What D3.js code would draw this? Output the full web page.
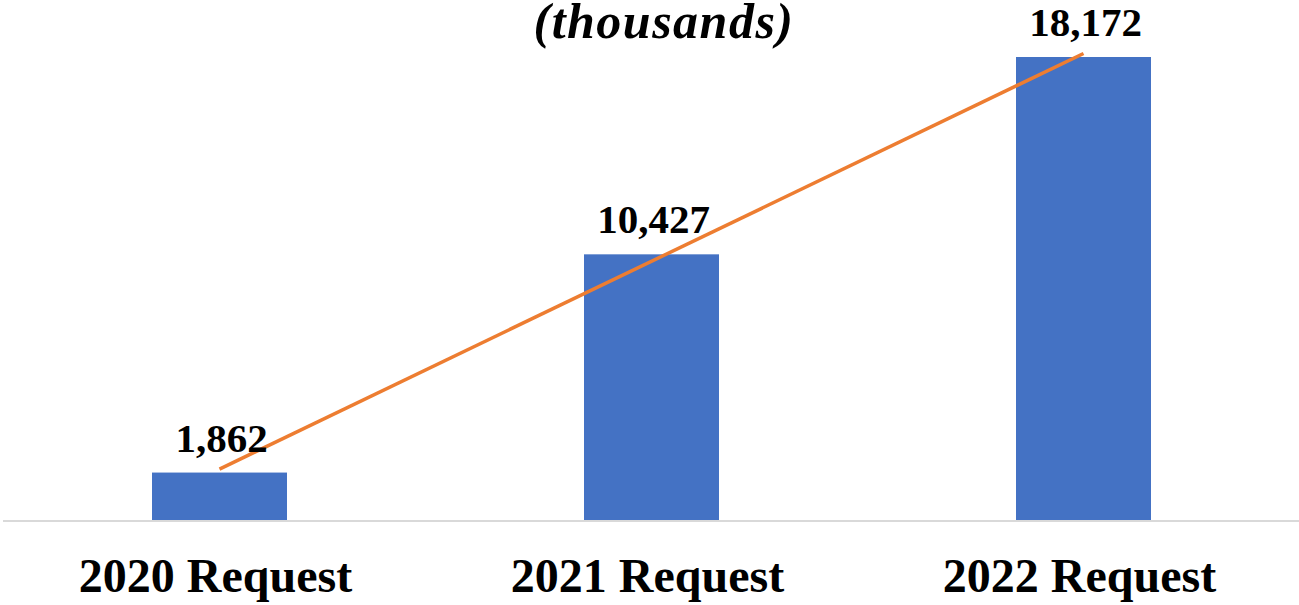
<!DOCTYPE html>
<html><head><meta charset="utf-8">
<script src="https://cdn.jsdelivr.net/npm/d3@7"></script>
<style>html,body{margin:0;padding:0;background:#fff;}</style>
</head><body>
<svg id="c" width="1299" height="605"></svg>
<script>
const categories = ["2020 Request", "2021 Request", "2022 Request"];
const values = [1862, 10427, 18172];
const valueLabels = ["1,862", "10,427", "18,172"];
const titleText = "(thousands)";

const svg = d3.select("#c");
const baseY = 520, topY = 57;

const x = d3.scaleBand().domain(categories).range([3.5, 1299.5]).paddingInner(0.6875).paddingOuter(0.34375);
const y = d3.scaleLinear().domain([0, 18172]).range([baseY, topY]);
const cx = c => x(c) + x.bandwidth()/2;

// bars
svg.selectAll("rect.bar").data(values).join("rect")
  .attr("class","bar")
  .attr("x",(d,i)=>x(categories[i]))
  .attr("width",x.bandwidth())
  .attr("y",d=>y(d))
  .attr("height",d=>baseY-y(d))
  .attr("fill","#4472C4");

// axis line
svg.append("line").attr("x1",3).attr("x2",1299).attr("y1",baseY+1).attr("y2",baseY+1)
  .attr("stroke","#d9d9d9").attr("stroke-width",2);

// linear trendline (least squares)
const xs = values.map((d,i)=>i+1);
const mx = d3.mean(xs), my = d3.mean(values);
const slope = d3.sum(xs.map((xi,i)=>(xi-mx)*(values[i]-my))) / d3.sum(xs.map(xi=>(xi-mx)*(xi-mx)));
const icpt = my - slope*mx;
svg.append("line")
  .attr("x1",cx(categories[0])).attr("y1",y(icpt+slope*1))
  .attr("x2",cx(categories[2])).attr("y2",y(icpt+slope*3))
  .attr("stroke","#ED7D31").attr("stroke-width",3.5);

// value labels
svg.selectAll("text.val").data(values).join("text")
  .attr("class","val")
  .attr("x",(d,i)=>cx(categories[i]) + 2)
  .attr("y",d=>y(d)-21)
  .attr("text-anchor","middle")
  .attr("font-family","'Liberation Serif','Times New Roman',serif")
  .attr("font-weight","bold").attr("font-size",41)
  .attr("fill","#000")
  .text((d,i)=>valueLabels[i]);

// category labels
svg.selectAll("text.cat").data(categories).join("text")
  .attr("class","cat")
  .attr("x",d=>cx(d) - 4)
  .attr("y",592)
  .attr("text-anchor","middle")
  .attr("font-family","'Liberation Serif','Times New Roman',serif")
  .attr("font-weight","bold").attr("font-size",48)
  .attr("fill","#000")
  .text(d=>d);

// title (top line cut off in the original)
svg.append("text")
  .attr("x",664).attr("y",38)
  .attr("text-anchor","middle")
  .attr("font-family","'Liberation Serif','Times New Roman',serif")
  .attr("font-weight","bold").attr("font-style","italic").attr("font-size",50)
  .attr("letter-spacing",1.5)
  .attr("fill","#000")
  .text(titleText);
</script>
</body></html>
